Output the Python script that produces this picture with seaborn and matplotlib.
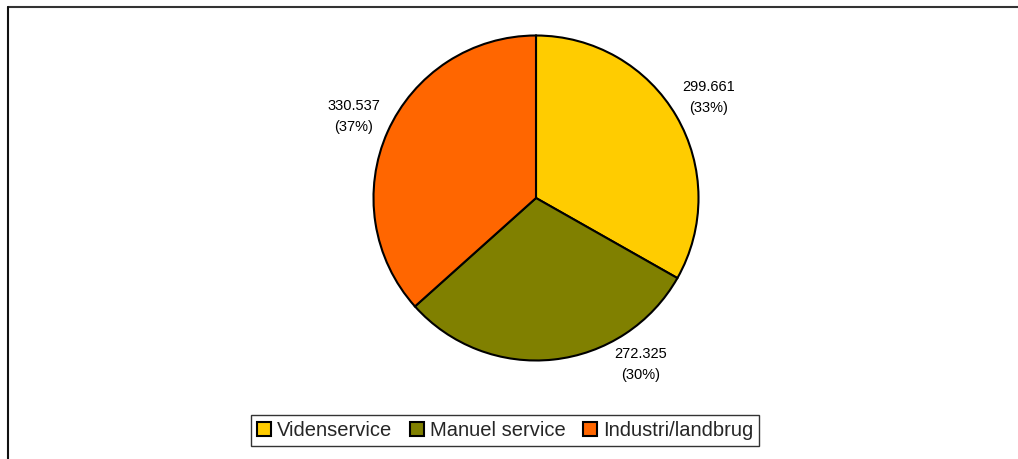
import numpy as np
import matplotlib
matplotlib.use('Agg')
import matplotlib.pyplot as plt
from matplotlib.patches import Patch
from matplotlib.lines import Line2D
import seaborn as sns

# data
categories = ['Videnservice', 'Manuel service', 'Industri/landbrug']
values = [299661, 272325, 330537]
value_labels = ['299.661', '272.325', '330.537']
colors = ['#FFCC00', '#808000', '#FF6600']

sns.set_theme(style='white')
plt.rcParams['font.family'] = ['Liberation Sans', 'DejaVu Sans']

W, H = 1018, 459
fig = plt.figure(figsize=(W / 100, H / 100), dpi=100)
fig.patch.set_facecolor('white')

# outer chart frame (only top and left are visible in the crop)
fig.add_artist(Line2D([8 / W, 1], [1 - 7 / H, 1 - 7 / H], color='#333333', lw=1.5))
fig.add_artist(Line2D([8 / W, 8 / W], [0, 1 - 7 / H], color='#111111', lw=1.5))

cx, cy, r = 536, 198, 162.5
ax = fig.add_axes([(cx - r) / W, (H - cy - r) / H, 2 * r / W, 2 * r / H])
ax.set_facecolor('none')

total = sum(values)
pct = [round(v / total * 100) for v in values]
labels = ['%s\n(%d%%)' % (lab, p) for lab, p in zip(value_labels, pct)]

wedges, texts = ax.pie(values, colors=colors, startangle=90, counterclock=False,
                       labels=labels, labeldistance=1.23,
                       wedgeprops=dict(edgecolor='black', linewidth=1.5),
                       textprops=dict(fontsize=10.5, color='black', ha='center',
                                      va='center', multialignment='center',
                                      linespacing=1.6))
# Excel nudges the bottom label away from the legend
ang = np.deg2rad(-58)
texts[1].set_position((1.21 * np.cos(ang), 1.21 * np.sin(ang)))
ax.set_xlim(-1, 1)
ax.set_ylim(-1, 1)
ax.set_aspect('equal')
ax.axis('off')

handles = [Patch(facecolor=c, edgecolor='black', linewidth=1.5) for c in colors]
leg = fig.legend(handles, categories, loc='center', bbox_to_anchor=(505 / W, 1 - 430.5 / H),
                 ncol=3, fontsize=14.5, frameon=True, fancybox=False,
                 handlelength=0.7, handleheight=0.7, handletextpad=0.3,
                 columnspacing=0.85, borderpad=0.3)
leg.get_frame().set_edgecolor('black')
leg.get_frame().set_linewidth(1.0)

fig.savefig('out.png', dpi=100, facecolor='white')
